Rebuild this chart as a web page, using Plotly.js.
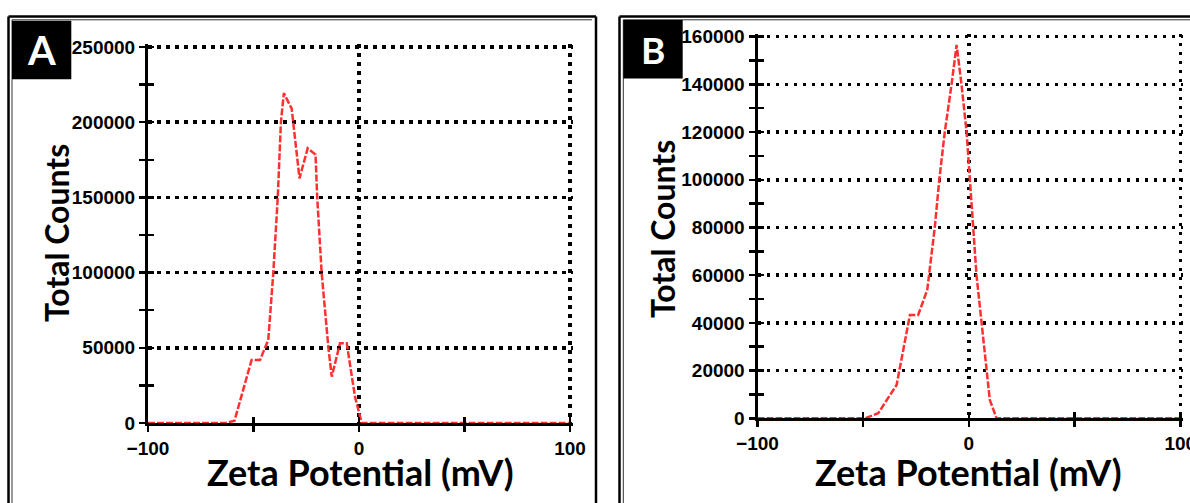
<!DOCTYPE html>
<html>
<head>
<meta charset="utf-8">
<script src="https://cdn.plot.ly/plotly-3.0.1.min.js"></script>
<style>html,body{margin:0;padding:0;background:#fff;}#chart{width:1190px;height:503px;}</style>
</head>
<body>
<div id="chart"></div>
<script>
// ---- Data ----
const zetaA = [-100, -63, -59, -50.9, -46.9, -43.0, -40.6, -38.5, -37.0, -35.6, -31.9, -28.2, -24.3, -20.6, -19.8, -17.7, -14.5, -12.9, -9.0, -5.8, -1.9, 1.3, 100];
const countsA = [0, 0, 1500, 41900, 41900, 55200, 100000, 150000, 200000, 219300, 209000, 162700, 182700, 178500, 150000, 100000, 50000, 30800, 53000, 53000, 17500, 0, 0];

const zetaB = [-100, -49.2, -42.9, -34.2, -27.9, -24.0, -19.7, -16.1, -14.0, -11.4, -8.2, -5.8, -3.5, -1.1, 3.6, 6.8, 9.9, 13.1, 100];
const countsB = [0, 0, 2100, 14000, 43300, 43300, 53800, 80300, 100000, 120000, 140000, 156500, 140000, 120100, 60100, 32800, 7700, 0, 0];

const panelLabels = ["A", "B"];
const xTitle = "Zeta Potential (mV)";
const yTitle = "Total Counts";

// ---- Layout helpers ----
const W = 1190, H = 503;
const px = x => x / W;
const py = y => 1 - y / H;

const tickFont = {family: "Liberation Sans, Arial, sans-serif", size: 19, color: "#000", weight: "bold"};
const titleFont = {family: "Lato, sans-serif", size: 36, color: "#000", weight: "bold"};
const yTitleFont = {family: "Lato, sans-serif", size: 32, color: "#000", weight: "bold"};

const gridStyle = {showgrid: true, gridcolor: "#000", gridwidth: 3.5, griddash: "3.5px,5.5px"};

function mainX(domain, yref) {
  return Object.assign({
    domain: domain, range: [-100, 101.2], anchor: yref, dtick: 100, tick0: -100,
    showline: true, linecolor: "#000", linewidth: 3, zeroline: false, layer: "above traces",
    ticks: "outside", ticklen: 6, tickwidth: 2.5, tickcolor: "#000",
    minor: {dtick: 50, tick0: 0, ticks: "outside", ticklen: 6, tickwidth: 2.5, tickcolor: "#000", showgrid: false},
    tickfont: tickFont, ticklabeloverflow: "allow", fixedrange: true
  }, gridStyle);
}
function overX(domain, over, yref) {
  return {
    domain: domain, range: [-100, 101.2], overlaying: over, anchor: yref, dtick: 100, tick0: -100,
    showline: false, zeroline: false, showgrid: false, showticklabels: false,
    ticks: "inside", ticklen: 6, tickwidth: 2.5, tickcolor: "#000",
    minor: {dtick: 50, tick0: 0, ticks: "inside", ticklen: 6, tickwidth: 2.5, tickcolor: "#000", showgrid: false},
    fixedrange: true
  };
}
function mainY(domain, top, step, xref) {
  return Object.assign({
    domain: domain, range: [0, top], anchor: xref, dtick: step, tick0: 0,
    showline: true, linecolor: "#000", linewidth: 3, zeroline: false, layer: "above traces",
    ticks: "outside", ticklen: 6, tickwidth: 2.5, tickcolor: "#000",
    minor: {dtick: step / 2, tick0: 0, ticks: "outside", ticklen: 6, tickwidth: 2.5, tickcolor: "#000", showgrid: false},
    tickfont: tickFont, tickformat: "d", ticklabeloverflow: "allow", fixedrange: true
  }, gridStyle);
}
function overY(domain, top, step, over, xref) {
  return {
    domain: domain, range: [0, top], overlaying: over, anchor: xref, dtick: step, tick0: 0,
    showline: false, zeroline: false, showgrid: false, showticklabels: false,
    ticks: "inside", ticklen: 6, tickwidth: 2.5, tickcolor: "#000",
    minor: {dtick: step / 2, tick0: 0, ticks: "inside", ticklen: 6, tickwidth: 2.5, tickcolor: "#000", showgrid: false},
    fixedrange: true
  };
}

const domAx = [px(148), px(572.5)];
const domAy = [py(423), py(44)];
const domBx = [px(757.5), px(1182.8)];
const domBy = [py(418.3), py(33.8)];

const lineStyle = {color: "#ff3030", width: 2.5, dash: "7px,2px"};

const traces = [
  {x: zetaA, y: countsA, type: "scatter", mode: "lines", line: lineStyle, xaxis: "x", yaxis: "y", hoverinfo: "skip"},
  {x: zetaB, y: countsB, type: "scatter", mode: "lines", line: lineStyle, xaxis: "x2", yaxis: "y2", hoverinfo: "skip"},
  {x: [], y: [], type: "scatter", mode: "lines", xaxis: "x3", yaxis: "y3", hoverinfo: "skip"},
  {x: [], y: [], type: "scatter", mode: "lines", xaxis: "x4", yaxis: "y4", hoverinfo: "skip"}
];

function line(x0, y0, x1, y1, w, c) {
  return {type: "line", xref: "paper", yref: "paper", x0: px(x0), y0: py(y0), x1: px(x1), y1: py(y1),
          line: {color: c || "#000", width: w}, layer: "above"};
}
function box(x0, y0, x1, y1) {
  return {type: "rect", xref: "paper", yref: "paper", x0: px(x0), y0: py(y0), x1: px(x1), y1: py(y1),
          fillcolor: "#000", line: {width: 0}, layer: "above"};
}

const shapes = [
  // panel A frame
  line(8.5, 16.5, 596, 16.5, 2.5), line(8.5, 16.5, 8.5, 510, 2.5), line(596, 16.5, 596, 510, 2.5),
  line(12, 19.8, 592, 19.8, 1, "#333"), line(12, 19.8, 12, 510, 1, "#333"),
  // panel B frame
  line(619.5, 16.5, 1195, 16.5, 2.5), line(619.5, 16.5, 619.5, 510, 2.5),
  line(623.3, 19.8, 1195, 19.8, 1, "#333"), line(623.3, 19.8, 623.3, 510, 1, "#333"),
  // label boxes
  box(12, 20.7, 71.3, 79.3), box(623.3, 20, 682.7, 78.5)
];

function ann(text, x, y, font, angle) {
  return {text: text, xref: "paper", yref: "paper", x: px(x), y: py(y), xanchor: "center", yanchor: "middle",
          showarrow: false, font: font, textangle: angle || 0};
}

const annotations = [
  ann(panelLabels[0], 41.7, 50, {family: "Lato, sans-serif", size: 40, color: "#fff", weight: "bold"}),
  ann(panelLabels[1], 653, 49.3, {family: "Lato, sans-serif", size: 37, color: "#fff", weight: "bold"}),
  ann(xTitle, 360, 472, titleFont),
  ann(xTitle, 968, 472, titleFont),
  ann(yTitle, 56, 233, yTitleFont, -90),
  ann(yTitle, 663, 229, yTitleFont, -90)
];

const layout = {
  width: W, height: H, margin: {l: 0, r: 0, t: 0, b: 0},
  paper_bgcolor: "#fff", plot_bgcolor: "rgba(0,0,0,0)", showlegend: false,
  xaxis: mainX(domAx, "y"),
  yaxis: mainY(domAy, 252000, 50000, "x"),
  xaxis2: mainX(domBx, "y2"),
  yaxis2: mainY(domBy, 161200, 20000, "x2"),
  xaxis3: overX(domAx, "x", "y3"),
  yaxis3: overY(domAy, 252000, 50000, "y", "x3"),
  xaxis4: overX(domBx, "x2", "y4"),
  yaxis4: overY(domBy, 161200, 20000, "y2", "x4"),
  shapes: shapes,
  annotations: annotations
};

Plotly.newPlot("chart", traces, layout, {staticPlot: true, displayModeBar: false});
</script>
</body>
</html>
